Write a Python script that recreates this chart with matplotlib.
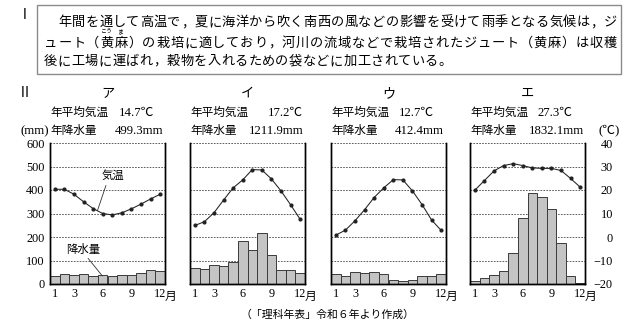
import matplotlib
matplotlib.use('Agg')
import matplotlib.pyplot as plt
import matplotlib.transforms as mtransforms
from matplotlib.patches import Rectangle

plt.rcParams['font.family'] = ['Liberation Serif', 'Noto Sans CJK JP']
plt.rcParams['axes.unicode_minus'] = True

# ---------------- data ----------------
months = list(range(1, 13))
panel_names = ['ア', 'イ', 'ウ', 'エ']
mean_temp_labels = ['14.7', '17.2', '12.7', '27.3']
annual_precip_labels = ['499.3', '1211.9', '412.4', '1832.1']

temp_a = [20.3, 20.3, 18.2, 15.0, 12.1, 10.0, 9.4, 10.3, 12.0, 14.0, 16.2, 18.2]
temp_i = [4.9, 6.5, 10.3, 15.7, 20.9, 24.3, 28.7, 28.5, 24.7, 19.6, 13.7, 7.5]
temp_u = [0.8, 2.9, 6.9, 11.6, 16.8, 20.9, 24.4, 24.3, 19.6, 13.8, 7.2, 2.8]
temp_e = [19.9, 24.0, 28.1, 30.4, 31.2, 30.4, 29.4, 29.2, 29.2, 28.3, 24.9, 21.2]

precip_a = [34, 41, 38, 42, 34, 38, 34, 38, 40, 46, 60, 56]
precip_i = [66, 62, 81, 75, 92, 181, 144, 215, 123, 59, 59, 48]
precip_u = [41, 34, 51, 45, 51, 44, 16, 11, 16, 33, 33, 41]
precip_e = [11, 24, 37, 54, 130, 279, 388, 369, 318, 175, 34, 6]

temps = [temp_a, temp_i, temp_u, temp_e]
precips = [precip_a, precip_i, precip_u, precip_e]

x_ticks = [1, 3, 6, 9, 12]
x_tick_labels = ['1', '3', '6', '9', '12']
precip_ticks = [0, 100, 200, 300, 400, 500, 600]
temp_ticks = [-20, -10, 0, 10, 20, 30, 40]

header_lines = [
    "年間を通して高温で，夏に海洋から吹く南西の風などの影響を受けて雨季となる気候は，ジ",
    "ュート（黄麻）の栽培に適しており，河川の流域などで栽培されたジュート（黄麻）は収穫",
    "後に工場に運ばれ，穀物を入れるための袋などに加工されている。",
]
caption = "（「理科年表」令和６年より作成）"

# ---------------- figure ----------------
W, H = 640, 326
fig = plt.figure(figsize=(6.4, 3.26), dpi=100)


def fx(x):
    return x / W


def fy(y):
    return 1 - y / H


cjk = ['Noto Sans CJK JP']
mixed = ['Liberation Serif', 'Noto Sans CJK JP']

# header box
fig.patches.append(Rectangle((fx(37), fy(74)), fx(621) - fx(37), fy(5) - fy(74),
                             transform=fig.transFigure, fill=False,
                             edgecolor='#8a8a8a', lw=1.0))
fig.text(fx(25), fy(19), 'Ⅰ', ha='center', va='baseline', fontsize=10, family=cjk)

line_specs = [(58, (617 - 58) / 41, 21), (44, (617 - 44) / 41, 42), (44, 13.6, 60)]
hfs = 9.5
for s, (x0, pitch, yc) in zip(header_lines, line_specs):
    for i, ch in enumerate(s):
        fig.text(fx(x0 + (i + 0.5) * pitch), fy(yc + 5), ch, ha='center',
                 va='baseline', fontsize=hfs, family=cjk)
# furigana
p2 = line_specs[1][1]
fig.text(fx(44 + 4.5 * p2), fy(33), 'こう', ha='center', va='baseline', fontsize=4.3, family=cjk)
fig.text(fx(44 + 5.5 * p2), fy(33), 'ま', ha='center', va='baseline', fontsize=4.3, family=cjk)

fig.text(fx(25), fy(97), 'Ⅱ', ha='center', va='baseline', fontsize=10, family=cjk)

lefts = [50, 190, 331, 470]
aw, top, bot = 115, 143, 284
v1_end = [104, 113, 103, 103]
v2_end = [113, 114, 113, 114]
sfs = 8.4
nfs = 9.2

for k in range(4):
    L = lefts[k]
    ax = fig.add_axes([fx(L), fy(bot), aw / W, (bot - top) / H])
    ax.bar(months, precips[k], width=1.0, color='#c4c4c4', edgecolor='#3a3a3a',
           linewidth=0.7, zorder=2)
    ax.set_xlim(0.5, 12.5)
    ax.set_ylim(0, 600)
    ax.set_yticks(precip_ticks)
    ax.yaxis.grid(True, linestyle=(0, (2, 1.5)), color='#444444', lw=0.6)
    ax.set_axisbelow(True)
    ax.set_xticks(x_ticks, x_tick_labels)
    ax.tick_params(length=0, labelsize=8.8, pad=3)
    ax.tick_params(axis='y', pad=4, labelleft=(k == 0))
    ax.spines['top'].set_visible(False)
    for sp in ['left', 'right', 'bottom']:
        ax.spines[sp].set_linewidth(1.0)

    ax2 = ax.twinx()
    ax2.plot(months, temps[k], color='#222222', lw=0.75, marker='o', ms=2.0)
    ax2.set_ylim(-20, 40)
    ax2.set_yticks(temp_ticks)
    ax2.tick_params(length=0, labelright=(k == 3), labelsize=8.8, pad=20)
    if k == 3:
        plt.setp(ax2.get_yticklabels(), ha='right')
    ax2.spines['top'].set_visible(False)
    for sp in ['left', 'right', 'bottom']:
        ax2.spines[sp].set_linewidth(1.0)

    trans = mtransforms.blended_transform_factory(ax.transData, ax.transAxes)
    ax.text(12.5, -0.115, '月', transform=trans, ha='left', va='baseline',
            fontsize=8.5, family=cjk)

    # titles and stats
    fig.text(fx(L + aw / 2), fy(97), panel_names[k], ha='center', va='baseline',
             fontsize=9.5, family=cjk)
    fig.text(fx(L), fy(116), '年平均気温', ha='left', va='baseline', fontsize=sfs,
             family=cjk)
    fig.text(fx(L + v1_end[k]), fy(116), mean_temp_labels[k] + '℃', ha='right',
             va='baseline', fontsize=nfs, family=mixed)
    fig.text(fx(L), fy(134), '年降水量', ha='left', va='baseline', fontsize=sfs,
             family=cjk)
    fig.text(fx(L + v2_end[k]), fy(134), annual_precip_labels[k] + 'mm', ha='right',
             va='baseline', fontsize=nfs, family=mixed)

    if k == 0:
        ax2.annotate('気温', xy=(5.45, 11.2), xytext=(7.03, 26.0), ha='center',
                     va='center', fontsize=8.2, family=cjk,
                     arrowprops=dict(arrowstyle='-', lw=0.6, color='#333333',
                                     relpos=(0.27, 0.0), shrinkA=1, shrinkB=0))
        ax.annotate('降水量', xy=(5.97, 34), xytext=(3.97, 149), ha='center',
                    va='center', fontsize=8.2, family=cjk,
                    arrowprops=dict(arrowstyle='-', lw=0.6, color='#333333',
                                    relpos=(0.55, 0.0), shrinkA=1, shrinkB=0))

fig.text(fx(49), fy(134), '(mm)', ha='right', va='baseline', fontsize=nfs, family=mixed)
fig.text(fx(609), fy(134), '(℃)', ha='center', va='baseline', fontsize=nfs, family=mixed)
fig.text(fx(328), fy(318), caption, ha='center', va='baseline', fontsize=7.8, family=cjk)

fig.savefig('out.png', dpi=100)
